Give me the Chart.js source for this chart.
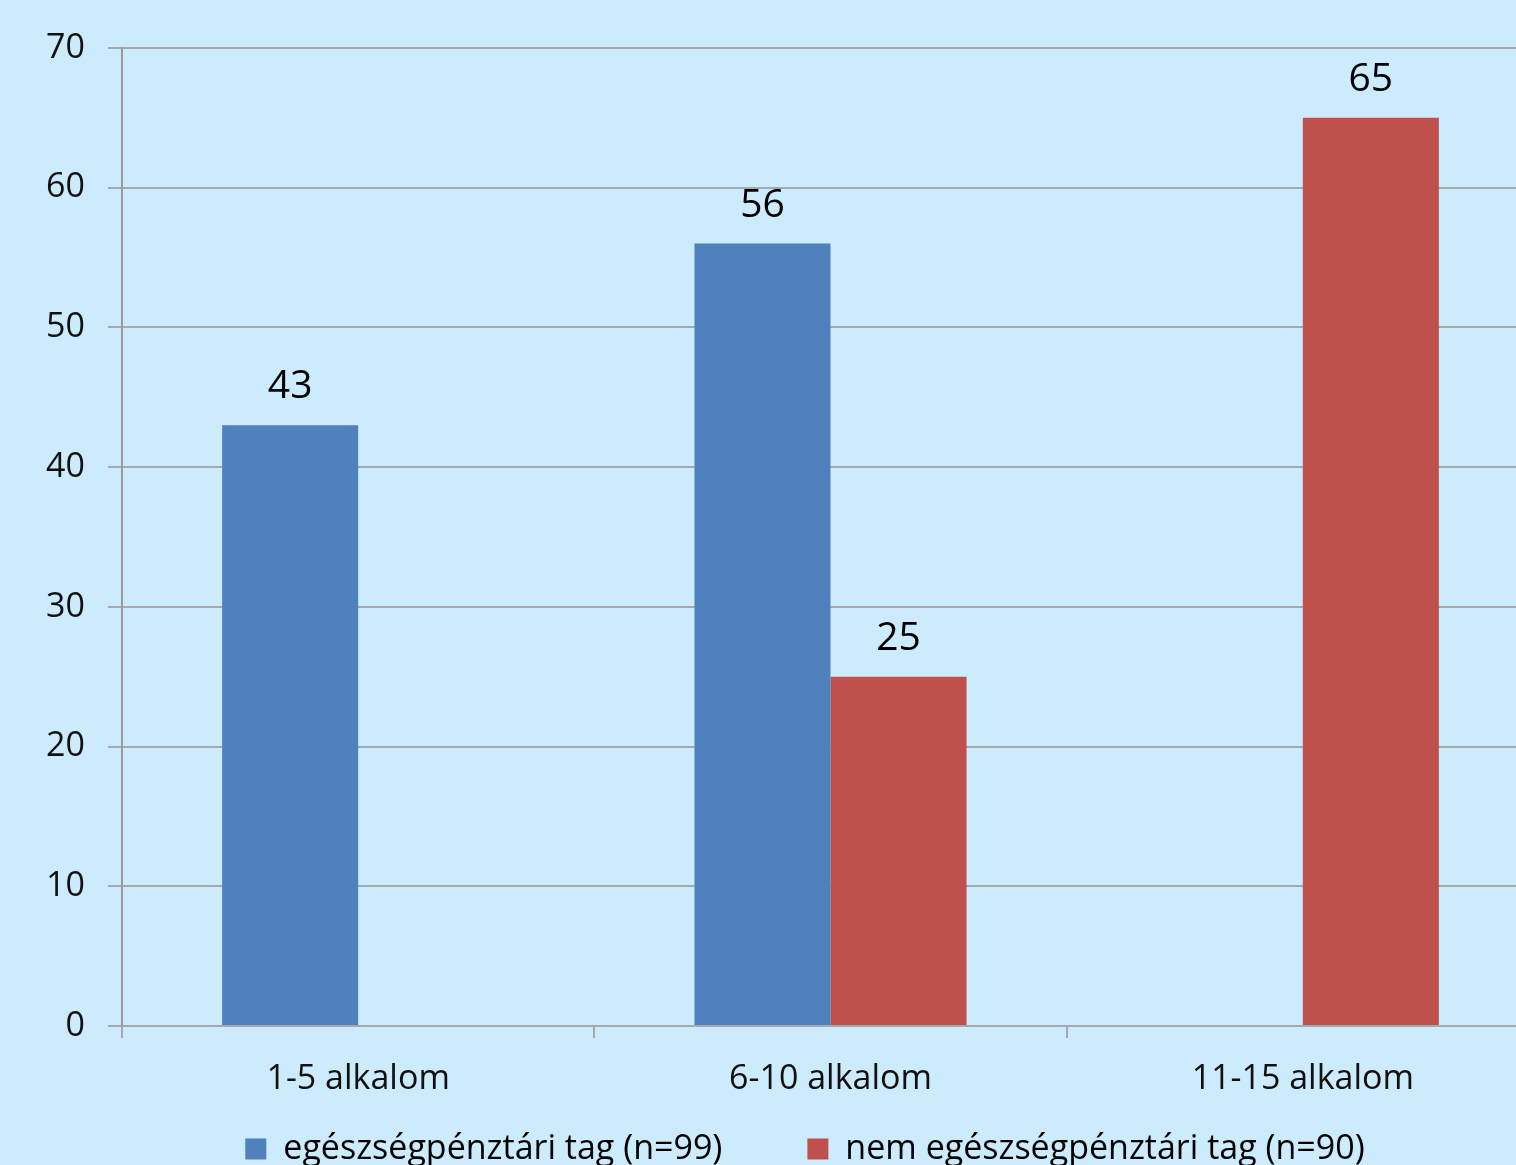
<!DOCTYPE html>
<html>
<head>
<meta charset="utf-8">
<script src="https://cdn.jsdelivr.net/npm/chart.js@4/dist/chart.umd.min.js"></script>
<style>
  html, body { margin: 0; padding: 0; overflow: hidden; background: #CCEBFD; }
  #wrap { width: 1610px; height: 1230px; }
</style>
</head>
<body>
<div id="wrap"><canvas id="c" width="1610" height="1230"></canvas></div>
<script>
const categories = ['1-5 alkalom', '6-10 alkalom', '11-15 alkalom'];
const seriesNames = ['egészségpénztári tag (n=99)', 'nem egészségpénztári tag (n=90)'];
const members = [43, 56, null];
const nonMembers = [null, 25, 65];
const yTicks = [0, 10, 20, 30, 40, 50, 60, 70];

const FONT = "'Open Sans', 'Noto Sans', sans-serif";
const GRID = '#A2AAB0';

// value labels above each bar
const valueLabels = {
  id: 'valueLabels',
  afterDatasetsDraw(chart) {
    const ctx = chart.ctx;
    ctx.save();
    ctx.font = `39px ${FONT}`;
    ctx.fillStyle = '#000';
    ctx.textAlign = 'center';
    ctx.textBaseline = 'middle';
    chart.data.datasets.forEach((ds, i) => {
      const meta = chart.getDatasetMeta(i);
      meta.data.forEach((bar, j) => {
        const v = ds.data[j];
        if (v === null || v === undefined) return;
        ctx.fillText(String(v), bar.x, bar.y - 38);
      });
    });
    ctx.restore();
  }
};

// pull the legend up so it sits closer under the category labels
const legendOffset = {
  id: 'legendOffset',
  afterLayout(chart) {
    const lg = chart.legend;
    if (!lg) return;
    const dy = (chart.scales.x.top + 21) - lg.top;
    lg.top += dy;
    lg.bottom += dy;
  }
};

new Chart(document.getElementById('c'), {
  type: 'bar',
  data: {
    labels: categories,
    datasets: [
      { label: seriesNames[0], data: members, backgroundColor: '#4F81BD' },
      { label: seriesNames[1], data: nonMembers, backgroundColor: '#C0504D' }
    ]
  },
  plugins: [valueLabels, legendOffset],
  options: {
    responsive: false,
    animation: false,
    layout: { padding: { top: 48, left: 0, right: 0, bottom: 0 } },
    datasets: { bar: { categoryPercentage: 0.576, barPercentage: 1.0 } },
    plugins: {
      tooltip: { enabled: false },
      legend: {
        position: 'bottom',
        labels: {
          font: { family: FONT, size: 34 },
          color: '#000',
          boxWidth: 21,
          boxHeight: 21,
          padding: 85
        }
      }
    },
    scales: {
      x: {
        afterFit: s => { s.height = 75; },
        grid: { offset: true, drawOnChartArea: false, drawTicks: true, tickLength: 12, color: GRID, lineWidth: 2 },
        border: { display: true, color: GRID, width: 2 },
        ticks: { font: { family: FONT, size: 34 }, color: '#111', padding: 21 }
      },
      y: {
        min: 0,
        max: 70,
        afterFit: s => { s.width = 122; },
        afterBuildTicks: s => { s.ticks = yTicks.map(v => ({ value: v })); },
        grid: { color: GRID, lineWidth: 2, tickLength: 14 },
        border: { display: true, color: '#9A9A9A', width: 2 },
        ticks: { font: { family: FONT, size: 34 }, color: '#111', padding: 23 }
      },
      yRight: {
        position: 'right',
        afterFit: s => { s.width = 71; },
        grid: { display: false },
        border: { display: false },
        ticks: { display: false }
      }
    }
  }
});
</script>
</body>
</html>
